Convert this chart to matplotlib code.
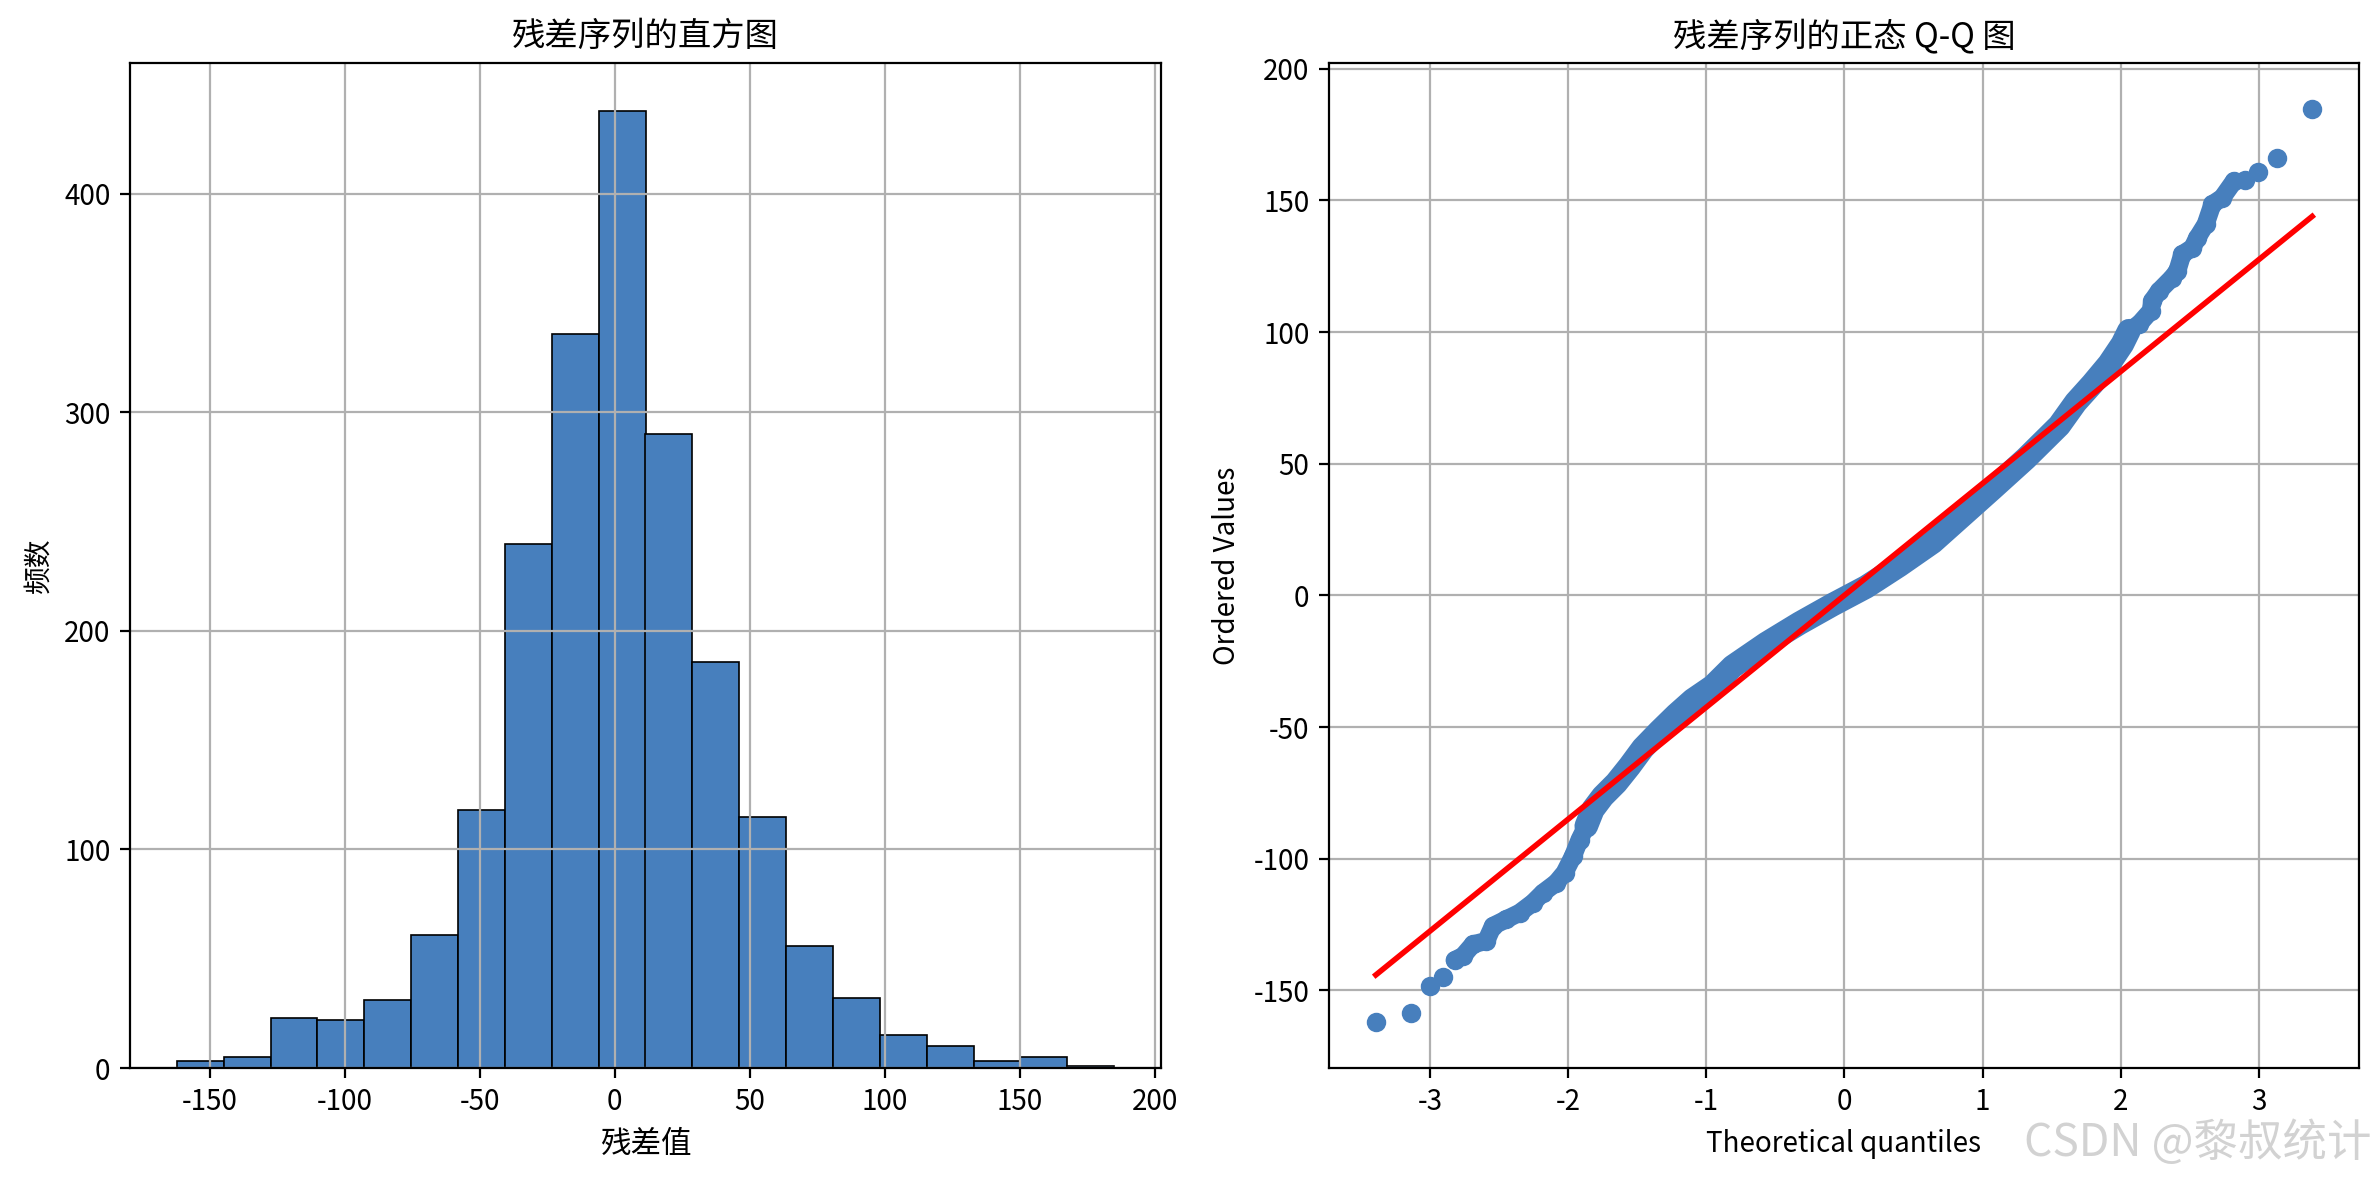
import numpy as np
import matplotlib
matplotlib.use("Agg")
import matplotlib.pyplot as plt

plt.rcParams['font.family'] = ['Noto Sans CJK SC', 'DejaVu Sans']
plt.rcParams['axes.unicode_minus'] = False

# ---------------- data ----------------
# histogram of residuals: 20 equal bins between min and max residual
resid_min = -162.1
resid_max = 184.8
hist_counts = [3, 5, 23, 22, 31, 61, 118, 240, 336, 438,
               290, 186, 115, 56, 32, 15, 10, 3, 5, 1]

# normal Q-Q plot: theoretical quantiles vs ordered residuals
theo_q = [-3.391, -3.137, -2.998, -2.904, -2.820, -2.760, -2.688, -2.592, -2.543,
          -2.447, -2.350, -2.254, -2.181, -2.085, -2.025, -1.964, -1.916, -1.868,
          -1.820, -1.748, -1.651, -1.555, -1.458, -1.338, -1.217, -1.097, -0.952,
          -0.808, -0.566, -0.325, -0.084, 0.157, 0.398, 0.639, 0.880, 1.072,
          1.314, 1.555, 1.675, 1.795, 1.916, 2.012, 2.060, 2.133, 2.217, 2.229,
          2.278, 2.374, 2.410, 2.446, 2.519, 2.555, 2.615, 2.664, 2.735, 2.820,
          2.900, 2.996, 3.133, 3.386]
ordered_vals = [-162.1, -158.7, -148.4, -144.8, -138.5, -136.9, -132.5, -131.2, -125.5,
                -123.0, -120.5, -116.7, -112.9, -109.1, -105.3, -99.0, -92.7, -87.6,
                -81.3, -76.3, -71.2, -64.9, -58.0, -51.5, -45.3, -39.7, -34.5,
                -27.0, -18.3, -10.6, -3.5, 3.2, 11.4, 20.2, 31.5, 40.5,
                52.0, 64.5, 73.3, 80.3, 87.9, 95.4, 100.5, 103.0, 108.0, 111.9,
                115.6, 120.7, 123.2, 129.5, 132.0, 135.8, 140.9, 148.5, 151.0, 157.3,
                157.9, 160.7, 165.9, 184.8]
fit_slope = 42.5
fit_intercept = 0.0

blue = '#477fbd'

# ---------------- figure ----------------
W, H = 2379, 1180
fig = plt.figure(figsize=(W / 200, H / 200), dpi=200)
ax1 = fig.add_axes([130 / W, 112 / H, 1031 / W, 1005 / H])
ax2 = fig.add_axes([1329 / W, 112 / H, 1030 / W, 1005 / H])

# histogram
edges = np.linspace(resid_min, resid_max, len(hist_counts) + 1)
centers = (edges[:-1] + edges[1:]) / 2
ax1.hist(centers, bins=edges, weights=hist_counts, color=blue,
         edgecolor='black', linewidth=0.6)
ax1.set_title('残差序列的直方图', fontsize=12)
ax1.set_xlabel('残差值', fontsize=11)
ax1.set_ylabel('频数', fontsize=10)
ax1.grid(True, color='#b0b0b0', linewidth=0.8)
ax1.tick_params(labelsize=10)

# Q-Q plot
tq = np.array(theo_q)
ov = np.array(ordered_vals)
i0 = theo_q.index(-2.820)
i1 = theo_q.index(2.820) + 1
ax2.plot(tq[i0:i1], ov[i0:i1], '-', color=blue, lw=6.5,
         solid_capstyle='round', solid_joinstyle='round')
ax2.plot(tq, ov, 'o', color=blue, markersize=6)
mid0 = theo_q.index(-1.868)
mid1 = theo_q.index(2.060) + 1
ax2.plot(tq[mid0:mid1], ov[mid0:mid1], '-', color=blue, lw=8.5,
         solid_capstyle='round', solid_joinstyle='round')
line_x = np.array([tq[0], tq[-1]])
ax2.plot(line_x, fit_slope * line_x + fit_intercept, 'r-', lw=2)
ax2.set_title('残差序列的正态 Q-Q 图', fontsize=12)
ax2.set_xlabel('Theoretical quantiles', fontsize=10)
ax2.set_ylabel('Ordered Values', fontsize=10)
ax2.grid(True, color='#b0b0b0', linewidth=0.8)
ax2.tick_params(labelsize=10)

fig.text(0.997, 0.012, 'CSDN @黎叔统计', ha='right', va='bottom',
         fontsize=16, color='#d2d2d2')

fig.savefig('out.png', dpi=200)
